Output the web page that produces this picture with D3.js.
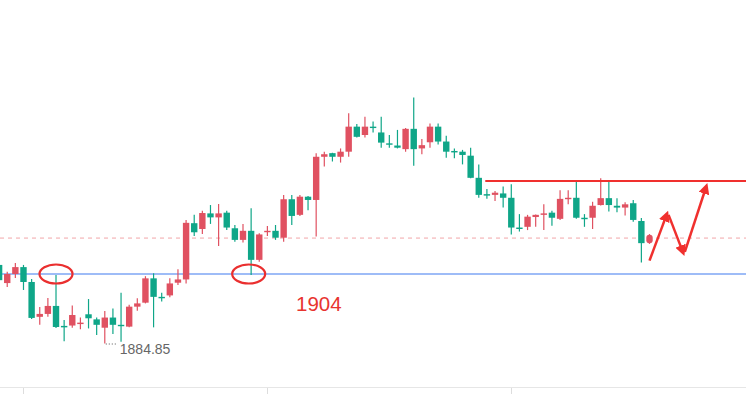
<!DOCTYPE html>
<html>
<head>
    <meta charset="utf-8">
    <script src="https://cdn.jsdelivr.net/npm/d3@7"></script>
    <style>
        body { margin: 0; background: #fff; }
    </style>
</head>
<body>
    <div id="cont"></div>

    <script>
        // candle data, one entry per bar (red = up, green = down)
        var opens  = [1906.5,1901.5,1904.0,1905.9,1901.8,1892.2,1893.0,1895.2,1889.7,1889.8,
                      1890.2,1892.9,1891.5,1889.2,1892.0,1890.0,1889.5,1895.0,1896.1,1902.8,
                      1897.7,1898.1,1901.6,1902.5,1918.0,1916.4,1920.7,1919.6,1920.9,1916.6,
                      1913.4,1915.9,1907.9,1915.6,1915.9,1914.0,1924.6,1920.3,1925.3,1924.4,
                      1936.3,1937.3,1936.3,1937.7,1944.6,1942.3,1944.6,1943.0,1940.0,1939.4,
                      1938.4,1944.0,1938.6,1940.3,1944.6,1940.5,1937.9,1937.7,1936.6,1930.5,
                      1926.0,1925.8,1926.2,1925.0,1916.8,1917.0,1919.7,1920.3,1920.9,1919.2,
                      1924.7,1925.0,1919.5,1919.5,1923.0,1924.9,1922.8,1922.3,1923.5,1918.6,
                      1912.5];
        var highs  = [1907.0,1904.6,1907.0,1906.5,1902.6,1894.9,1897.4,1903.7,1891.3,1895.3,
                      1892.0,1897.1,1892.0,1893.8,1894.5,1898.8,1895.5,1897.3,1903.4,1904.2,
                      1898.8,1902.8,1905.3,1918.9,1920.3,1921.4,1923.0,1923.3,1921.4,1917.5,
                      1917.8,1922.1,1915.2,1917.2,1917.5,1925.8,1925.8,1925.8,1925.5,1937.3,
                      1937.7,1937.4,1938.6,1948.3,1945.3,1947.3,1946.0,1947.3,1942.3,1943.7,
                      1944.2,1952.6,1941.2,1945.5,1945.5,1942.1,1938.6,1938.2,1938.8,1934.2,
                      1927.4,1926.9,1928.1,1928.7,1920.5,1920.3,1920.4,1923.2,1921.4,1927.1,
                      1927.1,1929.6,1920.5,1923.9,1930.4,1929.4,1924.9,1923.8,1924.4,1919.4,
                      1915.0];
        var lows   = [1901.8,1900.4,1902.9,1899.6,1891.6,1890.0,1892.2,1889.1,1885.5,1889.2,
                      1888.8,1889.0,1887.2,1884.85,1887.5,1885.3,1889.3,1893.9,1895.9,1889.3,
                      1896.4,1897.6,1901.0,1901.4,1914.5,1915.0,1917.8,1911.7,1916.1,1912.9,
                      1912.7,1903.7,1907.4,1914.5,1913.4,1912.9,1917.5,1920.0,1921.6,1914.3,
                      1933.6,1935.0,1934.7,1936.3,1941.6,1941.6,1943.0,1938.8,1938.8,1938.6,
                      1937.7,1933.8,1937.0,1938.8,1939.7,1936.0,1935.9,1934.2,1930.4,1925.0,
                      1924.7,1924.1,1922.3,1914.9,1915.7,1916.1,1917.0,1916.1,1917.3,1918.9,
                      1923.2,1919.2,1917.0,1916.4,1922.9,1921.2,1921.0,1920.1,1918.4,1907.2,
                      1912.3];
        var closes = [1902.3,1904.0,1905.9,1901.8,1891.9,1893.0,1895.2,1889.4,1889.3,1892.7,
                      1890.6,1891.8,1890.0,1892.0,1890.0,1889.7,1895.0,1895.9,1902.8,1897.7,
                      1897.4,1901.4,1902.5,1918.1,1915.5,1920.8,1919.6,1920.7,1916.8,1913.4,
                      1915.9,1907.9,1914.9,1915.9,1914.0,1924.6,1920.0,1925.3,1924.4,1936.3,
                      1937.0,1936.3,1937.7,1944.6,1941.8,1944.6,1944.3,1940.2,1939.7,1938.8,
                      1944.0,1938.4,1939.5,1944.6,1940.5,1937.7,1937.5,1936.8,1930.5,1925.8,
                      1925.6,1926.4,1925.0,1916.8,1916.4,1919.8,1920.3,1920.7,1919.5,1924.7,
                      1925.0,1919.5,1919.1,1922.8,1924.9,1923.0,1922.3,1923.2,1918.9,1912.5,
                      1914.8];

        // reference levels and notes
        var supportLevel = 1904;
        var lastPriceLevel = 1913.9;
        var resistanceLevel = 1929.6;
        var resistanceStart = 59.8;
        var lowLabel = "1884.85";
        var lowIndex = 13;
        var circledBars = [7, 30.7];
        var timeTicks = [3, 33, 63];
        // projected path: bar index, price
        var arrowPath = [[80.0, 1907.7], [82.1, 1920.3], [84.1, 1910.1], [86.95, 1927.9]];

        var W = 746, H = 394;
        var UP = "#e05161", DOWN = "#0fa688";

        var svg = d3.select("#cont").append("svg")
            .attr("width", W)
            .attr("height", H)
            .style("display", "block");

        var x = d3.scaleLinear().domain([0, 80]).range([-0.9, 649.5]);
        var y = d3.scaleLinear().domain([1884.85, 1904]).range([343.5, 274]);

        var candles = opens.map(function(o, i) {
            return { i: i, o: o, h: highs[i], l: lows[i], c: closes[i] };
        });

        var defs = svg.append("defs");
        defs.append("marker")
            .attr("id", "head")
            .attr("viewBox", "0 0 10 10")
            .attr("refX", 6)
            .attr("refY", 5)
            .attr("markerWidth", 4.4)
            .attr("markerHeight", 4.4)
            .attr("orient", "auto")
            .append("path")
            .attr("d", "M0,0 L10,5 L0,10 z")
            .attr("fill", "#f0302e");

        // bottom time axis line
        svg.append("line")
            .attr("x1", 0).attr("x2", W)
            .attr("y1", 387.5).attr("y2", 387.5)
            .attr("stroke", "#e6e6e6");
        svg.selectAll(".tick")
            .data(timeTicks)
            .enter().append("line")
            .attr("x1", function(d) { return Math.round(x(d)) + 0.5; })
            .attr("x2", function(d) { return Math.round(x(d)) + 0.5; })
            .attr("y1", 388).attr("y2", 394)
            .attr("stroke", "#dddddd");

        // last price dashed line
        svg.append("line")
            .attr("x1", 0).attr("x2", W)
            .attr("y1", y(lastPriceLevel)).attr("y2", y(lastPriceLevel))
            .attr("stroke", "#f2a5a8")
            .attr("stroke-width", 1)
            .attr("stroke-dasharray", "4,4");

        // support line
        svg.append("line")
            .attr("x1", 0).attr("x2", W)
            .attr("y1", y(supportLevel)).attr("y2", y(supportLevel))
            .attr("stroke", "#7ea6f4")
            .attr("stroke-width", 1.5);

        // candles
        var g = svg.append("g");
        g.selectAll(".wick")
            .data(candles)
            .enter().append("line")
            .attr("x1", function(d) { return x(d.i); })
            .attr("x2", function(d) { return x(d.i); })
            .attr("y1", function(d) { return y(d.h); })
            .attr("y2", function(d) { return y(d.l); })
            .attr("stroke", function(d) { return d.c >= d.o ? UP : DOWN; })
            .attr("stroke-width", 1.2);

        g.selectAll(".body")
            .data(candles)
            .enter().append("rect")
            .attr("x", function(d) { return x(d.i) - 3.2; })
            .attr("width", 6.4)
            .attr("y", function(d) { return y(Math.max(d.o, d.c)); })
            .attr("height", function(d) { return Math.max(1.4, Math.abs(y(d.o) - y(d.c))); })
            .attr("rx", function(d) { return d.i === 80 ? 3 : 0; })
            .attr("fill", function(d) { return d.c >= d.o ? UP : DOWN; });

        // resistance line
        svg.append("line")
            .attr("x1", x(resistanceStart)).attr("x2", W)
            .attr("y1", y(resistanceLevel)).attr("y2", y(resistanceLevel))
            .attr("stroke", "#f0302e")
            .attr("stroke-width", 2);

        // circles on the touches
        svg.selectAll(".ring")
            .data(circledBars)
            .enter().append("ellipse")
            .attr("cx", function(d) { return x(d); })
            .attr("cy", y(supportLevel))
            .attr("rx", 16.5)
            .attr("ry", 9.5)
            .attr("fill", "none")
            .attr("stroke", "#ea2f2f")
            .attr("stroke-width", 2.2);

        svg.append("text")
            .attr("x", 296)
            .attr("y", 311)
            .attr("fill", "#e8342f")
            .attr("font-family", "Arial, 'Liberation Sans', sans-serif")
            .attr("font-size", 20.5)
            .text(String(supportLevel));

        // low marker
        svg.append("line")
            .attr("x1", x(lowIndex) + 1).attr("x2", x(lowIndex) + 13)
            .attr("y1", y(lows[lowIndex]) + 0.5).attr("y2", y(lows[lowIndex]) + 0.5)
            .attr("stroke", "#555")
            .attr("stroke-dasharray", "1,2");
        svg.append("text")
            .attr("x", x(lowIndex) + 15)
            .attr("y", y(lows[lowIndex]) + 10.5)
            .attr("fill", "#666")
            .attr("font-family", "Arial, 'Liberation Sans', sans-serif")
            .attr("font-size", 14)
            .text(lowLabel);

        // projected move arrows
        for (var k = 0; k < arrowPath.length - 1; k++) {
            var a = arrowPath[k], b = arrowPath[k + 1];
            svg.append("line")
                .attr("x1", x(a[0]) + (k ? 2 : 0)).attr("y1", y(a[1]))
                .attr("x2", x(b[0])).attr("y2", y(b[1]))
                .attr("stroke", "#f0302e")
                .attr("stroke-width", 2.5)
                .attr("marker-end", "url(#head)");
        }
    </script>
</body>
</html>
